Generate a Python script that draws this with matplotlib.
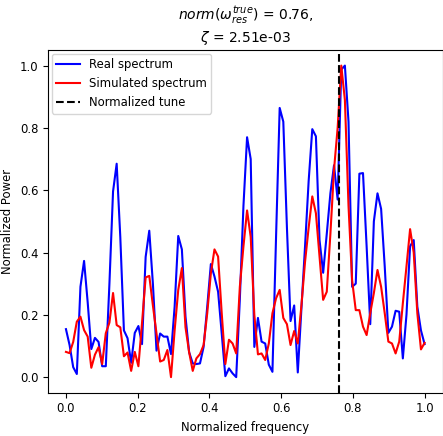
import numpy as np
import matplotlib
matplotlib.use("Agg")
import matplotlib.pyplot as plt

# normalized frequency axis, 100 bins
freq = np.linspace(0, 1, 100)

real_spec = [0.154, 0.103, 0.032, 0.01, 0.29, 0.373, 0.24, 0.09, 0.126, 0.113,
             0.035, 0.035, 0.30, 0.596, 0.685, 0.45, 0.15, 0.125, 0.046, 0.142,
             0.164, 0.106, 0.386, 0.47, 0.30, 0.085, 0.14, 0.13, 0.13, 0.074,
             0.226, 0.453, 0.41, 0.194, 0.08, 0.044, 0.042, 0.044, 0.097, 0.226,
             0.363, 0.323, 0.274, 0.14, 0.003, 0.028, 0.012, 0.0, 0.25, 0.55,
             0.77, 0.70, 0.097, 0.19, 0.114, 0.108, 0.04, 0.017, 0.45, 0.864,
             0.82, 0.48, 0.18, 0.23, 0.015, 0.22, 0.42, 0.63, 0.796, 0.773,
             0.44, 0.335, 0.46, 0.59, 0.68, 0.57, 0.987, 1.0, 0.82, 0.29,
             0.30, 0.653, 0.655, 0.42, 0.17, 0.5, 0.59, 0.54, 0.355, 0.142,
             0.162, 0.213, 0.21, 0.06, 0.2, 0.42, 0.44, 0.226, 0.15, 0.106]

sim_spec = [0.081, 0.077, 0.113, 0.178, 0.194, 0.151, 0.13, 0.03, 0.072, 0.096,
            0.042, 0.141, 0.175, 0.27, 0.167, 0.16, 0.067, 0.079, 0.02, 0.081,
            0.035, 0.174, 0.32, 0.325, 0.23, 0.14, 0.05, 0.055, 0.087, 0.0,
            0.15, 0.28, 0.35, 0.16, 0.08, 0.02, 0.06, 0.074, 0.103, 0.205,
            0.333, 0.41, 0.387, 0.205, 0.042, 0.12, 0.108, 0.076, 0.29, 0.42,
            0.535, 0.45, 0.2, 0.073, 0.076, 0.055, 0.108, 0.205, 0.253, 0.28,
            0.19, 0.17, 0.103, 0.148, 0.108, 0.23, 0.37, 0.48, 0.58, 0.526,
            0.387, 0.248, 0.274, 0.46, 0.666, 0.80, 1.0, 0.89, 0.55, 0.31,
            0.215, 0.215, 0.162, 0.135, 0.205, 0.27, 0.344, 0.29, 0.205, 0.114,
            0.108, 0.076, 0.114, 0.237, 0.355, 0.475, 0.4, 0.205, 0.089, 0.11]

tune = 0.76
zeta_txt = "2.51e-03"

plt.rcParams["font.size"] = 8.4

fig = plt.figure(figsize=(4.43, 4.36), dpi=100)
ax = fig.add_axes([0.1084, 0.0993, 0.8905, 0.786])

ax.plot(freq, real_spec, color="blue", lw=1.5, label="Real spectrum")
ax.plot(freq, sim_spec, color="red", lw=1.5, label="Simulated spectrum")
ax.axvline(tune, color="black", ls="--", lw=1.5, label="Normalized tune")

ax.set_xlabel("Normalized frequency")
ax.set_ylabel("Normalized Power")
ax.set_title(r"$norm(\omega_{res}^{true})$ = %.2f," % tune + "\n" + r"$\zeta$ = " + zeta_txt,
             fontsize=10)
ax.legend(loc="upper left", borderaxespad=0.3)

fig.savefig("out.png", dpi=100)
